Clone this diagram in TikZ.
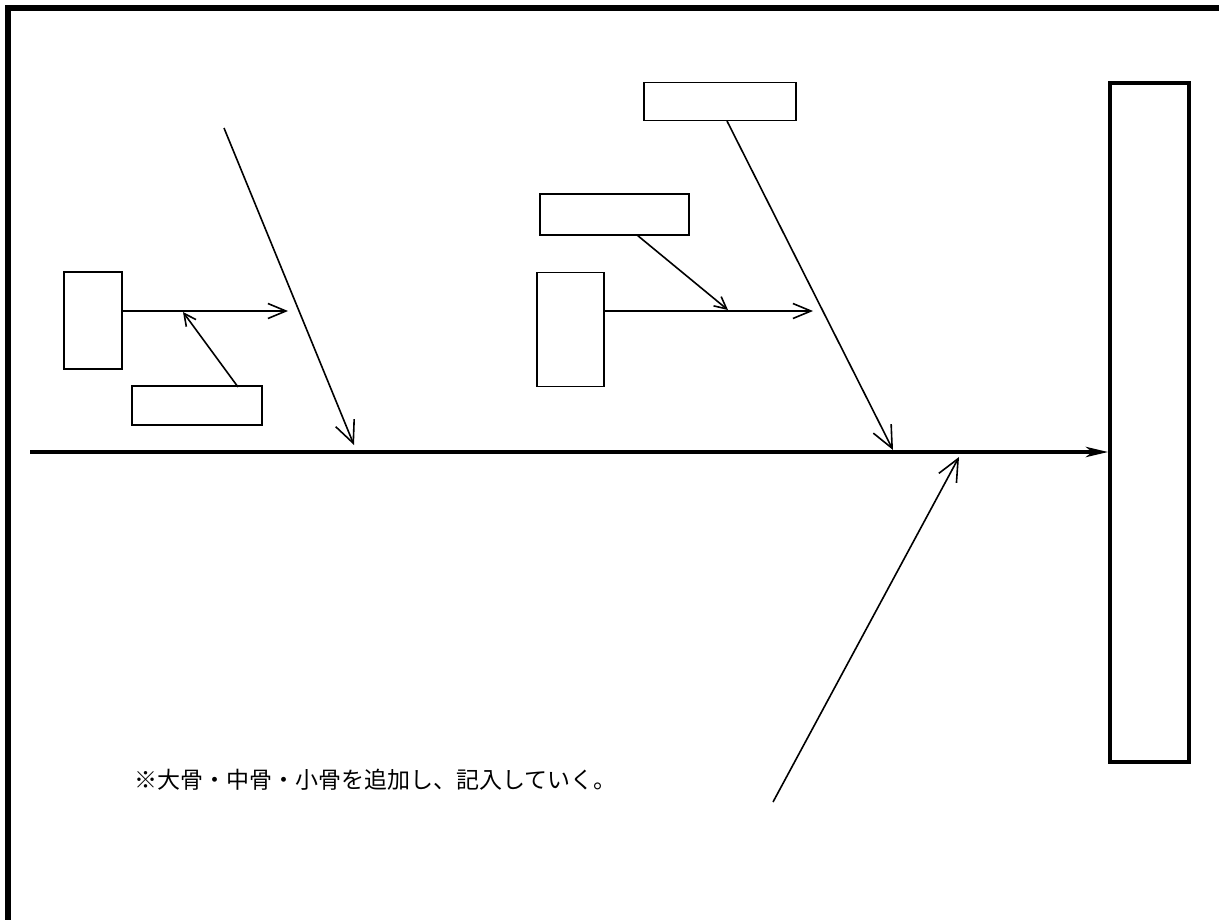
\documentclass[tikz,border=0pt]{standalone}
\usepackage{fontspec}
\newfontfamily\cjk{Noto Sans CJK JP}
\usetikzlibrary{arrows.meta}
\begin{document}
\begin{tikzpicture}[x=1pt,y=-1pt,
  box/.style={draw, line width=1.8pt, rectangle, inner sep=0pt, fill=white},
  bigbox/.style={draw, line width=3.5pt, rectangle, inner sep=0pt, fill=white},
  bone/.style={line width=1.6pt},
  bigbarb/.style={bone, -{Straight Barb[length=22pt,width=20pt]}},
  midbarb/.style={bone, -{Straight Barb[length=18pt,width=15pt]}},
  smallbarb/.style={bone, -{Straight Barb[length=12pt,width=12pt]}},
  spine/.style={line width=4pt, -{Stealth[length=22pt,width=10pt,inset=6pt]}},
  note/.style={anchor=west, inner sep=0pt, font=\cjk\fontsize{23pt}{27pt}\selectfont}
]
\useasboundingbox (0,0) rectangle (1219,919);
\fill[white] (0,0) rectangle (1219,919);
% frame
\draw[line width=6pt, line join=miter] (8,925) -- (8,8) -- (1225,8);

% boxes
\node[box, minimum width=58pt, minimum height=97pt] (A) at (93,320.5) {};
\node[box, minimum width=130pt, minimum height=39pt] (B) at (197,405.5) {};
\node[box, minimum width=152pt, minimum height=38pt] (C) at (720,101.5) {};
\node[box, minimum width=149pt, minimum height=41pt] (D) at (614.5,214.5) {};
\node[box, minimum width=67pt, minimum height=114pt] (E) at (570.5,329.5) {};
\node[bigbox, minimum width=79pt, minimum height=679pt] (F) at (1149.5,422.5) {};

% coordinates
\coordinate (S) at (30,452);
\coordinate (L1s) at (224,128);
\coordinate (L1t) at (354,445);
\coordinate (A1t) at (288,311);
\coordinate (B1s) at (238,387);
\coordinate (B1t) at (183,312);
\coordinate (C1s) at (727,121);
\coordinate (C1t) at (893,450);
\coordinate (D1s) at (637,235);
\coordinate (D1t) at (728,310);
\coordinate (E1t) at (813,311);
\coordinate (Ls) at (773,802);
\coordinate (Lt) at (959,457);

% spine
\draw[spine] (S) -- (F.west |- S);

% big bones
\draw[bigbarb] (L1s) -- (L1t);
\draw[bigbarb] (C1s) -- (C1t);
\draw[bigbarb] (Ls) -- (Lt);

% middle bones
\draw[midbarb] (A.east |- A1t) -- (A1t);
\draw[midbarb] (E.east |- E1t) -- (E1t);

% small bones
\draw[smallbarb] (B1s) -- (B1t);
\draw[smallbarb] (D1s) -- (D1t);

% note
\node[note] (T) at (134,780) {※大骨・中骨・小骨を追加し、記入していく。};
\end{tikzpicture}
\end{document}
